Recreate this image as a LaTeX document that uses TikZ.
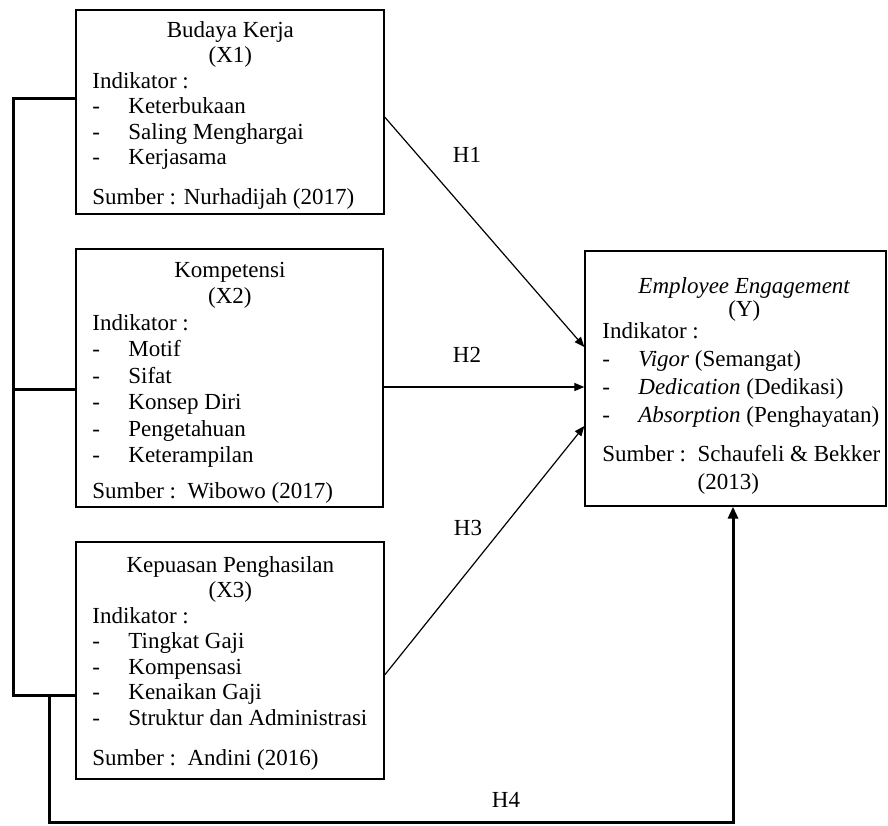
\documentclass[tikz,border=0pt]{standalone}
\usepackage{fontspec}
\setmainfont{Liberation Serif}
\usepackage{array}
\usetikzlibrary{arrows.meta,fit,positioning}
\begin{document}
\begin{tikzpicture}[x=0.5pt,y=-0.5pt,line join=miter,>={Triangle[length=5pt,width=4pt]},
	frame/.style={draw,line width=0.65pt,inner sep=0pt},
	content/.style={anchor=base west,inner sep=0pt,font=\fontsize{11.5}{#1}\selectfont},
	bracket/.style={line width=1.5pt},
	arr/.style={->,line width=0.6pt},
	hlabel/.style={font=\fontsize{11.5}{13}\selectfont}]
	\useasboundingbox (0,0) rectangle (888,825);
	\node (x1) [frame,fit={(76,10) (384,214)}] {};
	\node (x2) [frame,fit={(76,249) (383,507)}] {};
	\node (x3) [frame,fit={(76,542) (384,779)}] {};
	\node (y) [frame,fit={(585,251) (886,506)}] {};
	\node (x1txt) [content=12.75pt] at (92,37) {\begin{tabular}[t]{@{}p{18pt}@{}p{120pt}@{}}
		\multicolumn{2}{@{}c@{}}{Budaya Kerja}\\
		\multicolumn{2}{@{}c@{}}{(X1)}\\
		\multicolumn{2}{@{}l@{}}{Indikator :}\\
		- & Keterbukaan\\
		- & Saling Menghargai\\
		- & Kerjasama\\[7pt]
		\multicolumn{2}{@{}l@{}}{Sumber : Nurhadijah (2017)}
	\end{tabular}};
	\node (x2txt) [content=13.25pt] at (92,277) {\begin{tabular}[t]{@{}p{18pt}@{}p{119.5pt}@{}}
		\multicolumn{2}{@{}c@{}}{Kompetensi}\\
		\multicolumn{2}{@{}c@{}}{(X2)}\\
		\multicolumn{2}{@{}l@{}}{Indikator :}\\
		- & Motif\\
		- & Sifat\\
		- & Konsep Diri\\
		- & Pengetahuan\\
		- & Keterampilan\\[4.5pt]
		\multicolumn{2}{@{}l@{}}{Sumber :\ \ Wibowo (2017)}
	\end{tabular}};
	\node (x3txt) [content=12.75pt] at (92,572) {\begin{tabular}[t]{@{}p{18pt}@{}p{120pt}@{}}
		\multicolumn{2}{@{}c@{}}{Kepuasan Penghasilan}\\
		\multicolumn{2}{@{}c@{}}{(X3)}\\
		\multicolumn{2}{@{}l@{}}{Indikator :}\\
		- & Tingkat Gaji\\
		- & Kompensasi\\
		- & Kenaikan Gaji\\
		- & Struktur dan Administrasi\\[7.25pt]
		\multicolumn{2}{@{}l@{}}{Sumber :\ \ Andini (2016)}
	\end{tabular}};
	\node (ytxt) [content=14pt] at (602,293) {\begin{tabular}[t]{@{}p{18pt}@{}p{124pt}@{}}
		\multicolumn{2}{@{}c@{}}{\textit{Employee Engagement}}\\ \noalign{\vskip-2.5pt}
		\multicolumn{2}{@{}c@{}}{(Y)}\\ \noalign{\vskip-3pt}
		\multicolumn{2}{@{}l@{}}{Indikator :}\\
		- & \textit{Vigor} (Semangat)\\
		- & \textit{Dedication} (Dedikasi)\\
		- & \textit{Absorption} (Penghayatan)\\[5.5pt]
		\multicolumn{2}{@{}l@{}}{Sumber :\ \ Schaufeli \& Bekker}\\
		\multicolumn{2}{@{}l@{}}{\phantom{Sumber :\ \ }(2013)}
	\end{tabular}};
	\coordinate (b1) at (13,98);
	\coordinate (b2) at (13,389);
	\coordinate (b3) at (13,695);
	\coordinate (h4a) at (49,695);
	\coordinate (h4b) at (49,822);
	\coordinate (h4c) at (733,822);
	\draw[bracket] (x1.west |- b1)--(b1)--(b3)--(x3.west |- b3);
	\draw[bracket] (b2)--(x2.west |- b2);
	\draw[bracket,-{Triangle[length=6pt,width=5pt]}] (h4a)--(h4b)--(h4c)--(y.south -| h4c);
	\draw[arr] (x1.east |- 0,117)--(y.west |- 0,347);
	\draw[arr] (x2.east |- 0,387)--(y.west |- 0,387);
	\draw[arr] (x3.east |- 0,675)--(y.west |- 0,426);
	\foreach \n/\p in {1/{(467,155)},2/{(467,355)},3/{(468,528)},4/{(506,800)}}
	\node (h\n) [hlabel] at \p {H\n};
\end{tikzpicture}
\end{document}
